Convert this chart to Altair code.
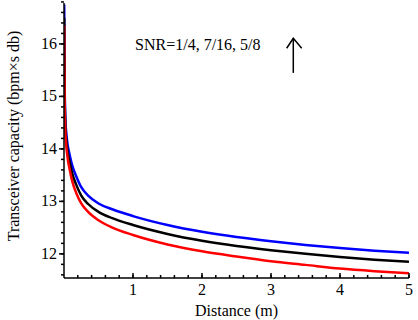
import altair as alt
import pandas as pd

distance = [0.003, 0.006, 0.01, 0.015, 0.02, 0.03, 0.05, 0.08, 0.12, 0.18, 0.25, 0.35, 0.5,
            0.7, 1.0, 1.5, 2.0, 2.5, 3.0, 3.5, 4.0, 4.5, 5.0]
snr_5_8 = [16.75, 16.0, 15.2, 14.8, 14.55, 14.35, 14.1, 13.9, 13.68, 13.47, 13.27, 13.11, 12.96,
           12.85, 12.72, 12.55, 12.42, 12.32, 12.24, 12.17, 12.11, 12.06, 12.02]
snr_7_16 = [16.5, 15.8, 15.0, 14.65, 14.42, 14.22, 13.97, 13.76, 13.53, 13.31, 13.11, 12.95, 12.8,
            12.68, 12.55, 12.38, 12.25, 12.15, 12.07, 12.0, 11.94, 11.89, 11.85]
snr_1_4 = [16.35, 15.6, 14.8, 14.5, 14.3, 14.1, 13.85, 13.62, 13.38, 13.15, 12.96, 12.8, 12.64,
           12.5, 12.36, 12.18, 12.05, 11.95, 11.86, 11.79, 11.72, 11.67, 11.63]
series_names = ["SNR=5/8", "SNR=7/16", "SNR=1/4"]
series_colors = ["#0000ff", "#000000", "#ff0000"]

x_major = [1, 2, 3, 4, 5]
x_minor = [round(0.2 * i, 1) for i in range(1, 26)]
y_major = [12, 13, 14, 15, 16]
y_minor = [round(11.6 + 0.2 * i, 1) for i in range(0, 27)]
x_title = ["Distance (m)"]
# the multiplication sign is written as a Vega expression escape so the page stays ASCII
y_title_expr = "'Transceiver capacity (bpm\\u00d7s db)'"

annot_text = ["SNR=1/4, 7/16, 5/8"]
annot_x = [1.03]
annot_y = [15.89]
arrow_x = [3.323, 3.323]
arrow_y = [15.448, 16.109]
head_x = [3.227, 3.323, 3.445]
head_y = [15.918, 16.109, 15.918]

rows = []
for name, vals in zip(series_names, [snr_5_8, snr_7_16, snr_1_4]):
    for d, v in zip(distance, vals):
        rows.append({"distance": d, "capacity": v, "series": name})
df = pd.DataFrame(rows)

FONT = "Liberation Serif"
W, H = 345, 275
xs = alt.Scale(domain=[0, 5], nice=False, zero=False)
ys = alt.Scale(domain=[11.54, 16.78], nice=False, zero=False)


def X(field):
    return alt.X(field, type="quantitative", scale=xs, axis=None)


def Y(field):
    return alt.Y(field, type="quantitative", scale=ys, axis=None)


lines = alt.Chart(df).mark_line(strokeWidth=2.5, interpolate="monotone", clip=True).encode(
    x=X("distance"),
    y=Y("capacity"),
    color=alt.Color("series:N", scale=alt.Scale(domain=series_names, range=series_colors),
                    legend=None),
    detail="series:N",
)

# axis lines
x_domain = alt.Chart(pd.DataFrame({"a": [0]})).mark_rule(color="black", strokeWidth=1.5).encode(
    x=alt.value(0), x2=alt.value(W), y=alt.value(H))
y_domain = alt.Chart(pd.DataFrame({"a": [0]})).mark_rule(color="black", strokeWidth=1.5).encode(
    x=alt.value(0), y=alt.value(0), y2=alt.value(H))

# ticks
y_major_ticks = alt.Chart(pd.DataFrame({"v": y_major})).mark_rule(
    color="black", strokeWidth=1.5).encode(y=Y("v"), x=alt.value(0), x2=alt.value(-5))
y_minor_ticks = alt.Chart(pd.DataFrame({"v": y_minor})).mark_rule(
    color="black", strokeWidth=1.5).encode(y=Y("v"), x=alt.value(0), x2=alt.value(-3))
x_major_ticks = alt.Chart(pd.DataFrame({"v": x_major})).mark_rule(
    color="black", strokeWidth=1.5).encode(x=X("v"), y=alt.value(H), y2=alt.value(H - 5))
x_minor_ticks = alt.Chart(pd.DataFrame({"v": x_minor})).mark_rule(
    color="black", strokeWidth=1.5).encode(x=X("v"), y=alt.value(H), y2=alt.value(H - 3))

# tick labels
x_labels = alt.Chart(pd.DataFrame({"v": x_major})).mark_text(
    font=FONT, fontSize=16, align="center", baseline="alphabetic", color="black"
).encode(x=X("v"), y=alt.value(H + 17), text=alt.Text("v:Q", format="d"))
y_labels = alt.Chart(pd.DataFrame({"v": y_major})).mark_text(
    font=FONT, fontSize=16, align="right", baseline="middle", color="black"
).encode(y=Y("v"), x=alt.value(-7), text=alt.Text("v:Q", format="d"))

# axis titles
x_title_mark = alt.Chart(pd.DataFrame({"t": x_title})).mark_text(
    font=FONT, fontSize=16, align="center", baseline="alphabetic", color="black"
).encode(x=alt.value(W / 2), y=alt.value(H + 38), text="t:N")
y_title_mark = alt.Chart(pd.DataFrame({"a": [0]})).transform_calculate(
    t=y_title_expr
).mark_text(
    font=FONT, fontSize=16, align="center", baseline="middle", color="black", angle=270
).encode(x=alt.value(-50), y=alt.value(133), text="t:N")

annot = alt.Chart(pd.DataFrame({"x": annot_x, "y": annot_y, "t": annot_text})).mark_text(
    font=FONT, fontSize=16, align="left", baseline="alphabetic", color="black"
).encode(x=X("x"), y=Y("y"), text="t:N")

shaft = alt.Chart(pd.DataFrame({"x": arrow_x, "y": arrow_y})).mark_line(
    color="black", strokeWidth=1.5).encode(x=X("x"), y=Y("y"))

head = alt.Chart(pd.DataFrame({"x": head_x, "y": head_y, "o": [0, 1, 2]})).mark_line(
    color="black", strokeWidth=1.5).encode(x=X("x"), y=Y("y"), order="o:Q")

chart = alt.layer(
    lines, x_domain, y_domain, y_major_ticks, y_minor_ticks, x_major_ticks, x_minor_ticks,
    x_labels, y_labels, x_title_mark, y_title_mark, annot, shaft, head
).properties(
    width=W, height=H,
    autosize=alt.AutoSizeParams(type="none"),
    padding={"left": 64, "top": 3, "right": 9, "bottom": 42},
    background="white",
).configure_view(strokeWidth=0)

chart.save("out.html", embed_options={"renderer": "svg", "actions": False})
